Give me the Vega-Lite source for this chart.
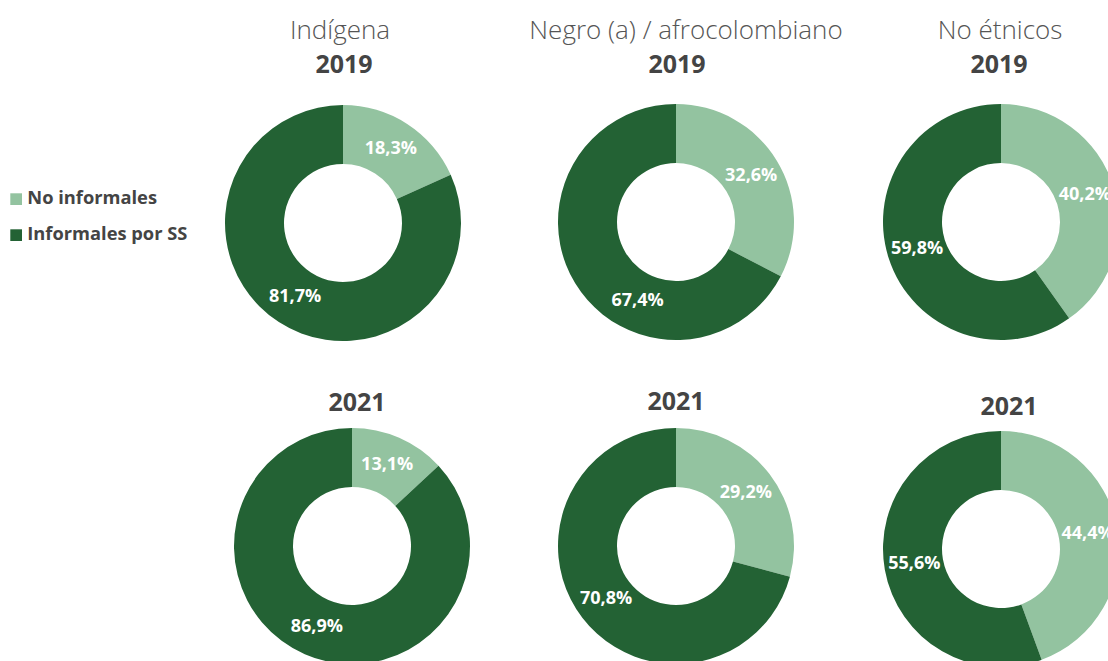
{
  "$schema": "https://vega.github.io/schema/vega-lite/v6.json",
  "width": 1108,
  "height": 661,
  "padding": 0,
  "autosize": {"type": "none"},
  "background": "white",
  "config": {"view": {"stroke": null}, "font": "Open Sans"},
  "datasets": {
    "donuts": [
      {"grupo": "Indígena", "anio": 2019, "categoria": "No informales", "valor": 18.3},
      {"grupo": "Indígena", "anio": 2019, "categoria": "Informales por SS", "valor": 81.7},
      {"grupo": "Negro (a) / afrocolombiano", "anio": 2019, "categoria": "No informales", "valor": 32.6},
      {"grupo": "Negro (a) / afrocolombiano", "anio": 2019, "categoria": "Informales por SS", "valor": 67.4},
      {"grupo": "No étnicos", "anio": 2019, "categoria": "No informales", "valor": 40.2},
      {"grupo": "No étnicos", "anio": 2019, "categoria": "Informales por SS", "valor": 59.8},
      {"grupo": "Indígena", "anio": 2021, "categoria": "No informales", "valor": 13.1},
      {"grupo": "Indígena", "anio": 2021, "categoria": "Informales por SS", "valor": 86.9},
      {"grupo": "Negro (a) / afrocolombiano", "anio": 2021, "categoria": "No informales", "valor": 29.2},
      {"grupo": "Negro (a) / afrocolombiano", "anio": 2021, "categoria": "Informales por SS", "valor": 70.8},
      {"grupo": "No étnicos", "anio": 2021, "categoria": "No informales", "valor": 44.4},
      {"grupo": "No étnicos", "anio": 2021, "categoria": "Informales por SS", "valor": 55.6}
    ],
    "titulos": [
      {"grupo": "Indígena", "nivel": "grupo", "texto": "Indígena"},
      {"grupo": "Negro (a) / afrocolombiano", "nivel": "grupo", "texto": "Negro (a) / afrocolombiano"},
      {"grupo": "No étnicos", "nivel": "grupo", "texto": "No étnicos"},
      {"grupo": "Indígena", "nivel": "2019", "texto": "2019"},
      {"grupo": "Negro (a) / afrocolombiano", "nivel": "2019", "texto": "2019"},
      {"grupo": "No étnicos", "nivel": "2019", "texto": "2019"},
      {"grupo": "Indígena", "nivel": "2021", "texto": "2021"},
      {"grupo": "Negro (a) / afrocolombiano", "nivel": "2021", "texto": "2021"},
      {"grupo": "No étnicos", "nivel": "2021", "texto": "2021"}
    ]
  },
  "resolve": {"scale": {"x": "independent", "y": "independent"}},
  "layer": [
    {
      "data": {"name": "donuts"},
      "transform": [
        {"stack": "valor", "groupby": ["grupo", "anio"], "sort": [{"field": "categoria", "order": "descending"}], "as": ["v0", "v1"]},
        {"calculate": "indexof(['Indígena','Negro (a) / afrocolombiano','No étnicos'], datum.grupo) + (datum.anio == 2021 ? 3 : 0)", "as": "p"}
      ],
      "mark": {"type": "arc", "radius": 118, "radius2": 59},
      "encoding": {
        "x": {"field": "p", "type": "quantitative", "axis": null, "scale": {"domain": [0, 1, 2, 3, 4, 5], "range": [343, 676, 1001, 352, 676, 1001], "zero": false, "nice": false}},
        "y": {"field": "p", "type": "quantitative", "axis": null, "scale": {"domain": [0, 1, 2, 3, 4, 5], "range": [223, 222, 222, 546, 546, 549], "zero": false, "nice": false}},
        "theta": {"field": "v0", "type": "quantitative", "scale": {"domain": [0, 100], "range": [0, 6.283185307179586]}},
        "theta2": {"field": "v1"},
        "color": {
          "field": "categoria", "type": "nominal",
          "scale": {"domain": ["No informales", "Informales por SS"], "range": ["#93c3a0", "#236234"]},
          "legend": {
            "title": null, "orient": "none", "legendX": 7, "legendY": 190,
            "symbolType": "square", "symbolSize": 137, "symbolStrokeWidth": 0,
            "labelFont": "Open Sans", "labelFontSize": 18.3, "labelFontWeight": "bold", "labelColor": "#444444",
            "labelOffset": 2, "rowPadding": 17, "padding": 0, "labelLimit": 400
          }
        }
      }
    },
    {
      "data": {"name": "donuts"},
      "transform": [
        {"stack": "valor", "groupby": ["grupo", "anio"], "sort": [{"field": "categoria", "order": "descending"}], "as": ["v0", "v1"]},
        {"calculate": "indexof(['Indígena','Negro (a) / afrocolombiano','No étnicos'], datum.grupo) + (datum.anio == 2021 ? 3 : 0)", "as": "p"},
        {"calculate": "datum.p == 1 && datum.categoria == 'Informales por SS' ? 57.2 : (datum.v0 + datum.v1) / 2", "as": "mid"},
        {"calculate": "replace(format(datum.valor, '.1f'), '.', ',') + '%'", "as": "etiqueta"}
      ],
      "mark": {"type": "text", "radius": 88, "fontSize": 18, "fontWeight": "bold", "color": "white", "align": "center", "baseline": "middle", "font": "Open Sans"},
      "encoding": {
        "x": {"field": "p", "type": "quantitative", "axis": null, "scale": {"domain": [0, 1, 2, 3, 4, 5], "range": [343, 676, 1001, 352, 676, 1001], "zero": false, "nice": false}},
        "y": {"field": "p", "type": "quantitative", "axis": null, "scale": {"domain": [0, 1, 2, 3, 4, 5], "range": [223, 222, 222, 546, 546, 549], "zero": false, "nice": false}},
        "theta": {"field": "mid", "type": "quantitative", "scale": {"domain": [0, 100], "range": [0, 6.283185307179586]}},
        "text": {"field": "etiqueta", "type": "nominal"}
      }
    },
    {
      "data": {"name": "titulos"},
      "transform": [
        {"filter": "datum.nivel == 'grupo'"},
        {"calculate": "indexof(['Indígena','Negro (a) / afrocolombiano','No étnicos'], datum.grupo)", "as": "t"}
      ],
      "mark": {"type": "text", "fontSize": 26, "fontWeight": 300, "color": "#555555", "align": "center", "baseline": "middle", "font": "Open Sans"},
      "encoding": {
        "x": {"field": "t", "type": "quantitative", "axis": null, "scale": {"domain": [0, 1, 2], "range": [340, 686, 1000], "zero": false, "nice": false}},
        "y": {"field": "t", "type": "quantitative", "axis": null, "scale": {"domain": [0, 1, 2], "range": [31, 31, 31], "zero": false, "nice": false}},
        "text": {"field": "texto", "type": "nominal"}
      }
    },
    {
      "data": {"name": "titulos"},
      "transform": [
        {"filter": "datum.nivel != 'grupo'"},
        {"calculate": "indexof(['Indígena','Negro (a) / afrocolombiano','No étnicos'], datum.grupo) + (datum.nivel == '2021' ? 3 : 0)", "as": "t"}
      ],
      "mark": {"type": "text", "fontSize": 25, "fontWeight": "bold", "color": "#444444", "align": "center", "baseline": "middle", "font": "Open Sans"},
      "encoding": {
        "x": {"field": "t", "type": "quantitative", "axis": null, "scale": {"domain": [0, 1, 2, 3, 4, 5], "range": [344, 677, 999, 357, 676, 1009], "zero": false, "nice": false}},
        "y": {"field": "t", "type": "quantitative", "axis": null, "scale": {"domain": [0, 1, 2, 3, 4, 5], "range": [65, 65, 65, 403, 402, 407], "zero": false, "nice": false}},
        "text": {"field": "texto", "type": "nominal"}
      }
    }
  ]
}
